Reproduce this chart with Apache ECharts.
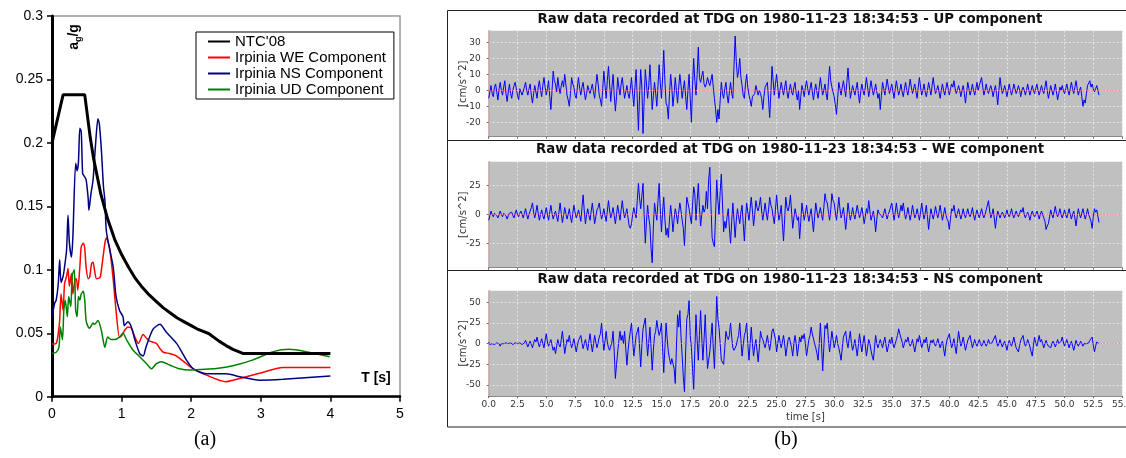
<!DOCTYPE html>
<html><head><meta charset="utf-8">
<script src="https://cdn.jsdelivr.net/npm/echarts@6/dist/echarts.min.js"></script>
<style>html,body{margin:0;padding:0;background:#fff}#c{width:1126px;height:458px}</style>
</head><body><div id="c"></div><script>
// ---------- (a) response spectra: [T (s), Sa/g] ----------
const ntc08 = [[0,0.2],[0.16,0.238],[0.47,0.238],[0.55,0.204],[0.6,0.187],[0.7,0.160],[0.8,0.140],[0.9,0.124],[1.0,0.112],[1.1,0.102],[1.2,0.093],[1.3,0.086],[1.4,0.080],[1.5,0.075],[1.6,0.070],[1.7,0.066],[1.8,0.062],[1.9,0.059],[2.0,0.056],[2.1,0.053],[2.25,0.0498],[2.4,0.0438],[2.5,0.0403],[2.6,0.0373],[2.75,0.034],[4.0,0.034]];
const irpiniaWE = [[0,0.0415],[0.06,0.042],[0.09,0.05],[0.11,0.06],[0.13,0.081],[0.16,0.068],[0.18,0.089],[0.21,0.095],[0.23,0.101],[0.25,0.087],[0.28,0.097],[0.30,0.081],[0.33,0.092],[0.35,0.093],[0.37,0.084],[0.40,0.102],[0.42,0.118],[0.45,0.121],[0.47,0.117],[0.49,0.102],[0.52,0.093],[0.54,0.094],[0.57,0.105],[0.59,0.106],[0.61,0.1],[0.64,0.093],[0.69,0.094],[0.71,0.1],[0.76,0.121],[0.78,0.125],[0.83,0.116],[0.88,0.092],[0.92,0.068],[0.97,0.047],[1.0,0.048],[1.04,0.052],[1.09,0.055],[1.14,0.054],[1.19,0.047],[1.24,0.042],[1.31,0.049],[1.36,0.046],[1.4,0.044],[1.5,0.042],[1.55,0.038],[1.6,0.035],[1.69,0.034],[1.79,0.032],[1.93,0.026],[2.03,0.022],[2.22,0.017],[2.5,0.0118],[2.6,0.013],[2.98,0.0184],[3.32,0.023],[4.0,0.023]];
const irpiniaNS = [[0,0.063],[0.04,0.074],[0.06,0.076],[0.09,0.089],[0.11,0.108],[0.13,0.09],[0.16,0.095],[0.18,0.102],[0.21,0.116],[0.23,0.143],[0.25,0.121],[0.28,0.11],[0.30,0.126],[0.34,0.184],[0.36,0.178],[0.38,0.185],[0.40,0.2115],[0.42,0.209],[0.44,0.176],[0.46,0.174],[0.49,0.171],[0.52,0.156],[0.53,0.147],[0.56,0.16],[0.59,0.171],[0.63,0.202],[0.66,0.219],[0.68,0.215],[0.71,0.194],[0.74,0.165],[0.76,0.155],[0.78,0.131],[0.83,0.116],[0.88,0.102],[0.92,0.079],[0.97,0.068],[1.02,0.063],[1.04,0.056],[1.09,0.059],[1.14,0.055],[1.19,0.045],[1.26,0.034],[1.31,0.032],[1.35,0.039],[1.45,0.053],[1.55,0.057],[1.64,0.051],[1.79,0.042],[1.93,0.029],[2.03,0.022],[2.22,0.018],[2.5,0.018],[2.7,0.0158],[2.98,0.013],[3.32,0.0137],[4.0,0.0163]];
const irpiniaUD = [[0,0.034],[0.06,0.035],[0.10,0.039],[0.12,0.055],[0.15,0.045],[0.17,0.068],[0.19,0.076],[0.22,0.063],[0.24,0.079],[0.27,0.071],[0.29,0.095],[0.32,0.1],[0.34,0.068],[0.36,0.063],[0.38,0.079],[0.40,0.076],[0.42,0.081],[0.45,0.083],[0.47,0.076],[0.49,0.06],[0.52,0.055],[0.54,0.054],[0.59,0.058],[0.61,0.057],[0.66,0.06],[0.71,0.052],[0.76,0.039],[0.80,0.047],[0.85,0.045],[0.90,0.045],[0.97,0.047],[1.02,0.05],[1.07,0.045],[1.16,0.037],[1.26,0.0315],[1.36,0.026],[1.43,0.022],[1.5,0.026],[1.57,0.0276],[1.69,0.025],[1.83,0.022],[1.98,0.021],[2.12,0.0215],[2.36,0.0223],[2.6,0.0244],[2.89,0.029],[3.18,0.0355],[3.41,0.0373],[3.65,0.0355],[3.99,0.0315]];
const spectraNames = ["NTC'08", 'Irpinia WE Component', 'Irpinia NS Component', 'Irpinia UD Component'];

// ---------- (b) accelerograms, cm/s^2, one sample every SAMPLE_STEP seconds (one row = 1 s) ----------
const SAMPLE_STEP = 0.1;
const upComp = [
-5,-1,3,-2,-4,2,4,-1,-6,1,
5,0,-3,2,6,-2,-7,-1,4,-2,
-5,0,3,5,6,-3,-6,1,2,-3,
-4,2,5,0,-3,1,4,-3,-8,-2,
3,-1,-5,2,6,0,-4,3,8,2,
-3,1,6,-4,-12,0,12,6,4,-1,
8,2,-2,3,6,2,10,4,-3,-6,
-10,-2,8,4,2,-3,-5,2,8,1,
-3,2,5,-1,-6,-2,3,0,-2,1,
4,-1,-5,3,10,4,-3,-6,-10,1,
12,3,-5,6,15,4,-7,2,10,-3,
-13,-4,8,2,-3,4,8,1,-5,-1,
3,-2,-5,1,8,-2,-10,2,13,-5,
-25,-3,13,2,-27,-6,13,4,-5,3,
16,2,-12,-3,5,-2,-10,3,16,5,
-5,8,25,6,-8,-10,-18,-2,10,2,
-10,-2,8,0,-8,2,10,3,-5,1,
6,-4,-12,0,10,-5,-20,3,20,6,
-3,10,27,8,5,9,12,4,2,4,
8,5,3,4,10,2,-5,-12,-20,-12,
-18,-6,5,-2,-5,1,5,-3,-8,-1,
5,-2,-5,15,34,18,8,12,20,8,
3,-3,-5,4,10,2,-3,-6,-10,-4,
-5,-2,3,0,-3,0,-2,-5,-12,-4,
2,1,5,-6,-17,-2,15,6,-3,4,
10,2,-5,0,5,1,-3,2,6,-1,
-5,0,4,-1,-3,2,5,-2,-6,0,
-12,-4,3,0,-4,2,6,1,-3,1,
5,-1,-6,0,4,-1,-5,2,8,2,
-3,0,4,-2,-6,5,15,6,2,-1,
-4,-9,-15,-5,5,1,-3,2,6,1,
-4,5,14,4,-5,-1,3,0,-3,1,
5,-2,-8,-1,4,0,-3,2,8,2,
-4,1,6,1,-3,0,4,-1,-5,-2,
-12,-3,5,1,-3,2,7,2,-2,1,
4,-1,-5,1,6,1,-3,0,4,-1,
-4,1,5,0,-3,2,7,2,-2,1,
4,-1,-5,2,8,2,-3,0,4,-1,
-4,0,5,1,-3,3,8,2,-2,0,
3,-1,-5,0,4,0,-3,1,5,1,
-3,1,4,2,6,1,-2,0,3,0,
-4,0,3,-2,-8,-1,5,1,-3,0,
4,0,-3,1,5,0,3,4,8,2,
-3,0,4,0,-2,1,3,0,-4,0,
3,-2,-9,0,8,2,-2,0,3,0,
-4,0,4,0,-3,0,4,1,-2,0,
3,0,-4,0,2,0,-3,0,4,0,
-3,0,3,0,-2,1,4,0,-3,0,
3,0,-2,2,6,0,-5,-1,3,0,
-3,0,4,-1,-6,-2,2,0,3,0,
-2,1,4,0,-3,1,5,1,-2,2,
6,1,-3,0,2,-4,-10,-6,-8,-2,
3,4,6,2,4,1,-1,1,3,0,
-3];
const weComp = [
-5,-1,3,0,-2,1,2,-1,-3,0,
3,0,-2,1,2,-1,-4,-1,1,0,
2,-1,-3,1,4,0,-2,1,3,0,
-3,1,5,0,-4,0,3,6,10,2,
-3,2,8,1,-5,0,4,-1,-4,1,
6,0,-5,2,8,1,-4,0,3,-2,
-6,2,10,1,-7,-1,6,1,-4,0,
5,-2,-7,1,8,2,-3,0,4,-1,
-6,6,17,3,-8,0,5,-1,-5,3,
10,1,-8,-2,4,6,10,2,-4,0,
5,-1,-6,3,12,3,-3,1,6,-1,
-8,0,8,1,-5,4,12,3,-3,1,
5,-3,-10,-12,-8,0,6,1,-3,12,
27,14,5,16,27,0,-25,-6,8,-3,
-10,-30,-42,-10,10,2,-5,12,27,5,
-15,2,15,-4,-18,-12,-20,-4,8,-2,
-15,-4,5,0,-8,2,10,3,-5,-12,
-27,-4,15,10,5,-2,-8,8,24,18,
-5,12,27,6,-10,0,8,2,5,20,
5,30,41,8,-20,-25,-28,0,30,12,
0,20,35,10,-15,-6,-12,-2,5,-12,
-25,-6,10,-5,-20,-5,5,-2,-8,2,
8,-8,-23,-4,10,2,-5,5,15,3,
-10,0,12,6,3,8,15,3,-5,2,
10,2,-5,4,15,8,5,-2,-8,4,
17,4,-5,0,8,-8,-23,-4,15,6,
3,8,17,2,-12,-3,5,0,-5,-2,
-21,-6,10,2,-5,1,8,0,-6,0,
5,-5,-15,-2,10,3,-3,1,6,0,
-5,6,18,12,10,2,-5,4,18,12,
10,2,-5,4,15,5,-3,1,6,-3,
-13,-2,10,2,-5,0,6,0,-4,2,
8,2,-3,1,6,0,-8,-2,5,1,
12,3,-5,-1,3,-4,-15,-4,4,1,
0,-1,-3,1,5,0,-4,0,3,4,
10,2,-5,2,10,2,-3,2,8,3,
10,2,-4,0,6,0,-5,1,8,2,
-3,0,5,0,-5,2,10,2,-4,1,
8,-2,-13,-3,5,0,-4,1,7,1,
-3,2,8,1,-5,0,6,0,-4,-6,
-13,-3,5,3,8,1,-3,1,5,0,
-4,0,5,0,-3,1,5,0,-2,1,
6,0,-5,0,4,0,-3,1,5,0,
-3,0,4,5,12,3,-3,0,5,-3,
-12,-3,3,0,-3,0,2,0,-3,0,
4,0,-2,1,5,0,-3,0,3,0,
-2,1,4,2,6,0,-3,0,2,-1,
-5,0,3,0,-2,0,3,0,-4,0,
3,0,-3,-6,-13,-10,-8,-2,4,0,
-3,2,7,1,-2,1,5,0,-3,0,
4,0,-3,1,5,0,-4,0,3,-3,
-10,-2,5,0,-3,1,5,0,-4,0,
5,0,-3,-6,-12,-2,5,2,4,-2,
-7];
const nsComp = [
2,-1,-3,0,1,-1,-2,1,3,0,
-3,0,2,0,-2,1,3,0,-1,1,
2,-1,-3,1,3,0,-1,1,2,-1,
-3,1,4,0,-4,0,3,-1,-5,1,
5,2,8,1,-4,1,6,0,-5,4,
12,2,-3,1,5,-2,-8,-4,-12,-3,
5,-1,-4,5,15,2,-12,-3,5,2,
10,1,-5,0,6,-2,-10,-2,4,2,
10,1,-6,0,5,-2,-8,3,12,0,
-10,0,10,2,-5,1,8,12,25,6,
-8,3,15,2,-5,-8,-10,2,15,-10,
-42,-25,-10,3,15,4,10,0,15,-5,
-26,-8,5,15,25,4,-15,-3,10,12,
20,-4,-28,-2,18,20,31,6,-15,2,
20,-5,-32,-8,10,15,28,18,10,15,
25,-5,-35,-5,25,6,-10,-18,-25,-18,
-20,-30,-48,-5,35,20,40,8,-15,-40,
-58,-10,30,35,52,10,-5,-30,-55,-8,
35,5,-20,10,40,8,-20,5,35,0,
-30,-20,-10,8,25,-5,-30,10,57,30,
20,0,-20,-22,-25,-5,15,8,5,10,
25,8,-5,-8,-10,-2,5,10,25,5,
-15,-2,10,15,25,0,-20,0,20,0,
-15,-3,5,-8,-22,-5,15,8,5,0,
-5,2,10,0,-8,2,15,18,20,5,
-10,0,10,2,-5,2,10,0,-15,-5,
5,8,10,-5,-15,0,10,0,-15,-3,
8,2,10,6,12,0,-15,-5,5,10,
20,12,10,0,-5,-12,-20,0,25,0,
-33,-5,22,18,25,5,-10,2,15,5,
-5,2,10,0,-5,-12,-20,-5,8,10,
15,2,-5,6,15,0,-8,-2,5,-5,
-15,-2,12,0,-10,0,10,-2,-15,-5,
5,0,-8,-15,-20,-5,10,0,-5,0,
5,0,-5,2,8,-2,-10,-3,5,0,
8,0,-5,0,5,10,18,12,10,2,
-5,0,5,2,8,1,-3,0,5,-3,
-10,-2,6,2,10,2,-5,0,5,1,
8,-2,-10,-2,4,1,5,0,-3,1,
6,0,-5,0,3,-6,-15,-3,5,8,
12,2,-5,0,6,-4,-12,2,15,5,
-3,1,8,0,-8,-2,4,3,10,2,
-5,0,5,0,-3,1,5,0,-3,0,
4,0,-3,0,5,0,-2,1,4,3,
10,2,-3,0,5,0,-4,0,3,-2,
-8,-1,4,0,-3,2,8,1,-5,-6,
-10,-2,4,6,10,2,-3,0,5,1,
-4,-10,-15,-2,8,1,-3,3,10,2,
5,0,-5,0,4,0,-3,-2,-5,0,
3,0,-4,0,5,0,-2,3,8,2,
-3,1,5,0,-5,0,3,-3,-8,-2,
4,0,-3,0,3,0,-3,0,2,0,
-2,1,4,5,8,-2,-10,-3,2,1,
0];
const panelTitles = [
  'Raw data recorded at TDG on 1980-11-23 18:34:53 - UP component',
  'Raw data recorded at TDG on 1980-11-23 18:34:53 - WE component',
  'Raw data recorded at TDG on 1980-11-23 18:34:53 - NS component'];
const upTicks = [-20,-10,0,10,20,30];
const weTicks = [-25,0,25];
const nsTicks = [-50,-25,0,25,50];

const toXY = arr => arr.map((v,i) => [+(i*SAMPLE_STEP).toFixed(1), v]);

const SANS = 'Liberation Sans, Arial, sans-serif';
const DV = 'DejaVu Sans, sans-serif';

const chart = echarts.init(document.getElementById('c'), null, {renderer:'canvas'});

function rightX(idx, showLabels) {
  return {
    gridIndex: idx, type: 'value', min: 0, max: 55, interval: 2.5,
    axisLine: {show: true, onZero: false, lineStyle: {color: '#8a8a8a', width: 1}},
    axisTick: {show: true, length: 2, lineStyle: {color: '#666'}},
    axisLabel: {show: showLabels, fontSize: 9, color: '#333', fontFamily: DV, margin: 4,
      formatter: v => v.toFixed(1)},
    splitLine: {show: true, lineStyle: {color: '#e6e6e6', type: [2,2], width: 1}},
    name: showLabels ? 'time [s]' : '', nameLocation: 'middle', nameGap: 16, nameMoveOverlap: false,
    nameTextStyle: {fontSize: 10, color: '#333', fontFamily: DV}
  };
}
function rightY(idx, min, max, ticks) {
  return {
    gridIndex: idx, type: 'value', min: min, max: max,
    axisLine: {show: true, onZero: false, lineStyle: {color: '#c4a6a6', width: 1.5}},
    axisTick: {show: true, length: 2, customValues: ticks, lineStyle: {color: '#666'}},
    axisLabel: {customValues: ticks, fontSize: 9, color: '#333', fontFamily: DV, margin: 8},
    splitLine: {show: true, lineStyle: {color: '#e6e6e6', type: [2,2], width: 1}},
    name: '[cm/s^2]', nameLocation: 'middle', nameGap: 20, nameMoveOverlap: false,
    nameTextStyle: {fontSize: 10, color: '#333', fontFamily: DV}
  };
}
function trace(name, idx, arr) {
  return {
    name: name, type: 'line', xAxisIndex: idx, yAxisIndex: idx, data: toXY(arr),
    symbol: 'none', showSymbol: false, silent: true, animation: false,
    lineStyle: {color: '#0000ff', width: 1}, itemStyle: {color: '#0000ff'},
    markLine: {silent: true, symbol: 'none', animation: false, label: {show: false},
      lineStyle: {color: '#ff6a6a', type: [1,2], width: 1}, data: [{yAxis: 0}]}
  };
}
function spec(name, data, color, width, smooth) {
  return {name: name, type: 'line', xAxisIndex: 0, yAxisIndex: 0, data: data,
    symbol: 'none', showSymbol: false, smooth: smooth, animation: false,
    lineStyle: {color: color, width: width}, itemStyle: {color: color}};
}

const option = {
  animation: false,
  backgroundColor: '#fff',
  grid: [
    {left: 52, top: 16, width: 348, height: 380.7, show: true, backgroundColor: 'transparent',
     borderColor: '#999', borderWidth: 1.5, outerBoundsMode: 'none', containLabel: false},
    {left: 488.7, top: 30.7, width: 633.4, height: 106, show: true, backgroundColor: '#c0c0c0',
     borderWidth: 0, outerBoundsMode: 'none', containLabel: false},
    {left: 488.7, top: 161.7, width: 633.4, height: 106, show: true, backgroundColor: '#c0c0c0',
     borderWidth: 0, outerBoundsMode: 'none', containLabel: false},
    {left: 488.7, top: 290.7, width: 633.4, height: 105.3, show: true, backgroundColor: '#c0c0c0',
     borderWidth: 0, outerBoundsMode: 'none', containLabel: false}
  ],
  legend: {
    data: spectraNames, left: 196, top: 32, orient: 'vertical',
    itemWidth: 22, itemHeight: 14, itemGap: 1, padding: [2, 8, 2, 11],
    borderColor: '#000', borderWidth: 1, borderRadius: 0, backgroundColor: '#fff',
    selectedMode: false,
    itemStyle: {opacity: 0, borderWidth: 0},
    textStyle: {fontSize: 15, lineHeight: 15, color: '#000', fontFamily: SANS}
  },
  xAxis: [
    {gridIndex: 0, type: 'value', min: 0, max: 5, interval: 1,
     axisLine: {show: true, onZero: false, lineStyle: {color: '#000', width: 2.5}},
     axisTick: {show: true, length: 5, lineStyle: {color: '#000', width: 1.5}},
     axisLabel: {fontSize: 14, color: '#000', fontFamily: SANS, margin: 10},
     splitLine: {show: false}},
    rightX(1, false), rightX(2, false), rightX(3, true)
  ],
  yAxis: [
    {gridIndex: 0, type: 'value', min: 0, max: 0.3, interval: 0.05,
     axisLine: {show: true, onZero: false, lineStyle: {color: '#000', width: 3}},
     axisTick: {show: true, length: 5, lineStyle: {color: '#000', width: 1.5}},
     axisLabel: {fontSize: 14, color: '#000', fontFamily: SANS, margin: 9},
     splitLine: {show: false}},
    rightY(1, -29, 37.3, upTicks), rightY(2, -46.2, 45.8, weTicks), rightY(3, -63.2, 64, nsTicks)
  ],
  series: [
    spec(spectraNames[1], irpiniaWE, '#ff0000', 1.5, 0.25),
    spec(spectraNames[2], irpiniaNS, '#000080', 1.5, 0.25),
    spec(spectraNames[3], irpiniaUD, '#008000', 1.5, 0.25),
    spec(spectraNames[0], ntc08, '#000000', 3, false),
    trace('UP', 1, upComp), trace('WE', 2, weComp), trace('NS', 3, nsComp)
  ],
  graphic: [
    {type: 'rect', silent: true, shape: {x: 447.5, y: 10.5, width: 720, height: 416.5},
     style: {fill: null, stroke: '#222', lineWidth: 1}},
    {type: 'line', silent: true, shape: {x1: 447.5, y1: 140.5, x2: 1126, y2: 140.5},
     style: {stroke: '#222', lineWidth: 1}},
    {type: 'line', silent: true, shape: {x1: 447.5, y1: 270.5, x2: 1126, y2: 270.5},
     style: {stroke: '#222', lineWidth: 1}},
    {type: 'text', silent: true, x: 790, y: 20, style: {text: panelTitles[0], font: 'bold 13.3px DejaVu Sans', fill: '#111', align: 'center', verticalAlign: 'middle'}},
    {type: 'text', silent: true, x: 790, y: 150, style: {text: panelTitles[1], font: 'bold 13.3px DejaVu Sans', fill: '#111', align: 'center', verticalAlign: 'middle'}},
    {type: 'text', silent: true, x: 790, y: 279.5, style: {text: panelTitles[2], font: 'bold 13.3px DejaVu Sans', fill: '#111', align: 'center', verticalAlign: 'middle'}},
    {type: 'text', silent: true, x: 74, y: 37, rotation: Math.PI / 2,
     style: {text: '{a|a}{s|g}{a|/g}', align: 'center', verticalAlign: 'middle',
       rich: {a: {fontSize: 14, fontWeight: 'bold', fontFamily: SANS, fill: '#000', lineHeight: 18, verticalAlign: 'middle'},
              s: {fontSize: 9, fontWeight: 'bold', fontFamily: SANS, fill: '#000', lineHeight: 18, verticalAlign: 'bottom'}}}},
    {type: 'text', silent: true, x: 376, y: 378, style: {text: 'T [s]', font: 'bold 14px Liberation Sans', fill: '#000', align: 'center', verticalAlign: 'middle'}},
    {type: 'text', silent: true, x: 205, y: 440, style: {text: '(a)', font: '20px Liberation Serif', fill: '#000', align: 'center', verticalAlign: 'middle'}},
    {type: 'text', silent: true, x: 786, y: 440, style: {text: '(b)', font: '20px Liberation Serif', fill: '#000', align: 'center', verticalAlign: 'middle'}}
  ]
};
chart.setOption(option);
</script></body></html>
